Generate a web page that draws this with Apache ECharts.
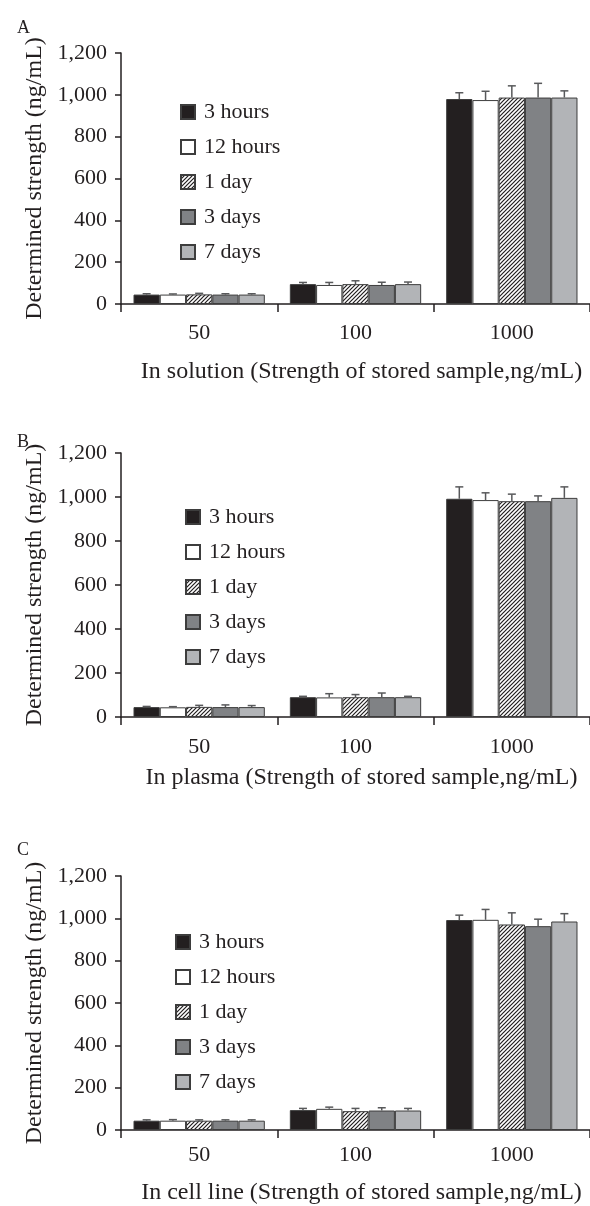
<!DOCTYPE html>
<html>
<head>
<meta charset="utf-8">
<title>Determined strength of stored samples</title>
<script src="https://cdn.jsdelivr.net/npm/echarts@6/dist/echarts.min.js"></script>
<style>
  html, body { margin: 0; padding: 0; background: #fff; }
  #chart-container { width: 590px; height: 1206px; }
</style>
</head>
<body>
<div id="chart-container"></div>
<script>
// categories / legend names
const categories = ['50', '100', '1000'];
const seriesNames = ['3 hours', '12 hours', '1 day', '3 days', '7 days'];
const yTicks = [0, 200, 400, 600, 800, 1000, 1200];

// A: in solution (one row per storage time, values for 50 / 100 / 1000)
const solutionMean = [
    [45, 95, 980],
    [45, 91, 975],
    [46, 95, 987],
    [45, 91, 987],
    [45, 95, 987],
];
const solutionErr = [
    [4, 8, 30],
    [3, 12, 42],
    [5, 16, 56],
    [4, 13, 68],
    [4, 10, 32],
];

// B: in plasma
const plasmaMean = [
    [45, 90, 992],
    [44, 89, 986],
    [46, 90, 981],
    [45, 90, 981],
    [45, 90, 996],
];
const plasmaErr = [
    [3, 4, 54],
    [3, 17, 33],
    [7, 12, 32],
    [10, 19, 24],
    [7, 4, 50],
];

// C: in cell line
const cellMean = [
    [44, 94, 992],
    [44, 100, 993],
    [44, 89, 971],
    [44, 92, 963],
    [44, 92, 985],
];
const cellErr = [
    [4, 8, 23],
    [5, 8, 49],
    [4, 13, 55],
    [4, 13, 33],
    [4, 10, 37],
];

document.addEventListener('DOMContentLoaded', () => {
    const chart = echarts.init(document.getElementById('chart-container'));

    const FONT = 'Liberation Serif';
    const INK = '#231f20';
    const GAP = 0.16; // barCategoryGap

    // diagonal hatch tile for "1 day"
    const hatch = document.createElement('canvas');
    hatch.width = 4;
    hatch.height = 4;
    const hctx = hatch.getContext('2d');
    hctx.fillStyle = '#fff';
    hctx.fillRect(0, 0, 4, 4);
    hctx.strokeStyle = INK;
    hctx.lineWidth = 1.2;
    [0, 4, 8].forEach(c => {
        hctx.beginPath();
        hctx.moveTo(c + 1, -1);
        hctx.lineTo(-1, c + 1);
        hctx.stroke();
    });

    const fills = [INK, '#ffffff', { image: hatch, repeat: 'repeat' }, '#808285', '#b2b4b7'];

    const panels = [
        { letter: 'A', name: 'In solution (Strength of stored sample,ng/mL)', mean: solutionMean, err: solutionErr,
          top: 53, height: 251, letterTop: 14, legendLeft: 175, legendTop: 95, labelMargin: 18, nameGap: 56 },
        { letter: 'B', name: 'In plasma (Strength of stored sample,ng/mL)', mean: plasmaMean, err: plasmaErr,
          top: 453, height: 264, letterTop: 428, legendLeft: 180, legendTop: 500, labelMargin: 19, nameGap: 49 },
        { letter: 'C', name: 'In cell line (Strength of stored sample,ng/mL)', mean: cellMean, err: cellErr,
          top: 876, height: 256, letterTop: 836, legendLeft: 170, legendTop: 925, labelMargin: 14, nameGap: 51 },
    ];

    const fmt = v => (v >= 1000 ? Math.floor(v / 1000) + ',' + String(v % 1000).padStart(3, '0') : String(v));

    // error bars drawn on top of the grouped bars
    const renderError = (params, api) => {
        const cat = api.value(0);
        const idx = api.value(1);
        const val = api.value(2);
        const e = api.value(3);
        const base = api.coord([cat, val]);
        const cap = api.coord([cat, val + e]);
        const bandW = api.size([1, 0])[0];
        const groupW = bandW * (1 - GAP);
        const bw = groupW / seriesNames.length;
        const x = base[0] - groupW / 2 + bw * (idx + 0.5);
        const style = { stroke: '#58595b', lineWidth: 1.5 };
        return {
            type: 'group',
            children: [
                { type: 'line', shape: { x1: x, y1: base[1], x2: x, y2: cap[1] }, style },
                { type: 'line', shape: { x1: x - 4, y1: cap[1], x2: x + 4, y2: cap[1] }, style },
            ],
        };
    };

    const option = {
        backgroundColor: '#fff',
        animation: false,
        textStyle: { fontFamily: FONT, color: INK },
        title: panels.map(p => ({
            text: p.letter,
            left: 12,
            top: p.letterTop,
            textStyle: { fontFamily: FONT, fontSize: 18, fontWeight: 'normal', color: INK },
        })),
        legend: panels.map(p => ({
            data: seriesNames,
            orient: 'vertical',
            left: p.legendLeft,
            top: p.legendTop,
            icon: 'rect',
            itemWidth: 14,
            itemHeight: 14,
            itemGap: 11,
            selectedMode: false,
            textStyle: { fontFamily: FONT, fontSize: 22, lineHeight: 24, color: INK, padding: [0, 0, 0, 4] },
        })),
        grid: panels.map(p => ({ left: 121, right: 0, top: p.top, height: p.height })),
        xAxis: panels.map((p, i) => ({
            type: 'category',
            gridIndex: i,
            data: categories,
            name: p.name,
            nameLocation: 'middle',
            nameGap: p.nameGap,
            nameTextStyle: { fontFamily: FONT, fontSize: 24, color: INK, padding: [0, 0, 0, 12] },
            axisLine: { lineStyle: { color: INK, width: 1.5 } },
            axisTick: { show: true, length: 8, lineStyle: { color: INK, width: 1.5 } },
            axisLabel: { fontFamily: FONT, fontSize: 22, color: INK, margin: p.labelMargin },
        })),
        yAxis: panels.map((p, i) => ({
            type: 'value',
            gridIndex: i,
            min: yTicks[0],
            max: yTicks[yTicks.length - 1],
            interval: 200,
            name: 'Determined strength (ng/mL)',
            nameLocation: 'middle',
            nameGap: 72,
            nameTextStyle: { fontFamily: FONT, fontSize: 24, color: INK },
            axisLine: { show: true, lineStyle: { color: INK, width: 1.5 } },
            axisTick: { show: true, length: 6, lineStyle: { color: INK, width: 1.5 } },
            axisLabel: { fontFamily: FONT, fontSize: 22, color: INK, margin: 14, formatter: fmt },
            splitLine: { show: false },
        })),
        series: [],
    };

    panels.forEach((p, i) => {
        seriesNames.forEach((s, k) => {
            option.series.push({
                name: s,
                type: 'bar',
                xAxisIndex: i,
                yAxisIndex: i,
                barGap: 0,
                barCategoryGap: GAP * 100 + '%',
                data: p.mean[k],
                itemStyle: { color: fills[k], borderColor: '#3d3d3d', borderWidth: 1 },
            });
        });
        const errData = [];
        seriesNames.forEach((s, k) => {
            categories.forEach((c, j) => {
                errData.push([j, k, p.mean[k][j], p.err[k][j]]);
            });
        });
        option.series.push({
            type: 'custom',
            name: 'error ' + p.letter,
            xAxisIndex: i,
            yAxisIndex: i,
            renderItem: renderError,
            encode: { x: 0, y: 2 },
            data: errData,
            z: 10,
            silent: true,
        });
    });

    chart.setOption(option);
});
</script>
</body>
</html>
